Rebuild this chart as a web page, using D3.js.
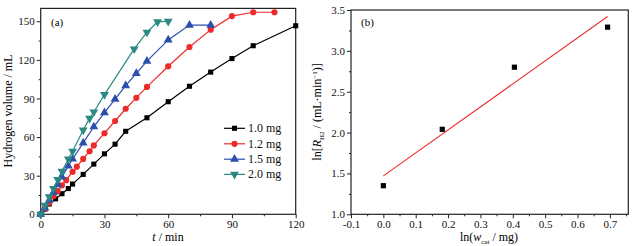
<!DOCTYPE html>
<html>
<head>
<meta charset="utf-8">
<script src="https://cdn.jsdelivr.net/npm/d3@7"></script>
<style>
  body { margin: 0; background: #fff; }
  svg { font-family: "Liberation Serif", "DejaVu Serif", serif; }
</style>
</head>
<body>
<svg id="chart" width="636" height="246"></svg>
<script>
// panel (a) data: time (min) vs hydrogen volume (mL)
const t10 = [0, 2, 4, 7, 10, 13, 15, 20, 25, 30, 35, 40, 50, 60, 70, 80, 90, 100, 120]
const v10 = [0, 4, 8, 12, 16, 20, 23.5, 31, 39, 47, 54.5, 64.5, 75, 87.5, 99.5, 110.5, 121, 131, 146.5]
const t12 = [0, 2, 4, 6, 8, 10, 12, 15, 17, 20, 23, 25, 30, 35, 40, 45, 50, 60, 70, 80, 90, 100, 110]
const v12 = [0, 4.5, 9, 14, 18, 22.5, 26.5, 33, 37, 43, 49, 53.5, 63, 72.5, 82, 90.5, 99, 115, 130, 143.5, 154, 157, 157]
const t15 = [0, 2, 4, 6, 8, 10, 13, 15, 20, 25, 30, 35, 40, 45, 50, 60, 70, 80]
const v15 = [0, 5, 11, 17, 23, 29, 37.5, 43, 55.5, 68, 79, 89.5, 100, 109.5, 119, 135.5, 147, 147]
const t20 = [0, 2, 4, 6, 8, 10, 13, 15, 20, 23, 25, 30, 44, 50, 55, 60]
const v20 = [0, 7, 13.5, 20, 27, 33.5, 43, 49, 65.5, 74.5, 79.5, 93, 128.5, 141.5, 149.5, 150]
const seriesNames = ["1.0 mg", "1.2 mg", "1.5 mg", "2.0 mg"]
const seriesColors = ["#000000", "#ee2b2b", "#2c4fae", "#2a8983"]
const seriesShapes = [d3.symbolSquare, d3.symbolCircle, d3.symbolTriangle, "down"]

const xTicksA = [0, 30, 60, 90, 120]
const yTicksA = [0, 30, 60, 90, 120, 150]

// panel (b) data: ln(w_cat) vs ln(R_H2)
const lnW = [0, 0.182, 0.405, 0.693]
const lnR = [1.35, 2.04, 2.80, 3.29]
const fitX = [0, 0.693]
const fitY = [1.47, 3.42]
const xTicksB = [-0.1, 0, 0.1, 0.2, 0.3, 0.4, 0.5, 0.6, 0.7]
const yTicksB = [1.0, 1.5, 2.0, 2.5, 3.0, 3.5]

const svg = d3.select("#chart")

// plain hyphen for negatives, as in the original figure
const fmt1 = (d) => d3.format(".1f")(d).replace("−", "-")

function frame (g, x, y, xTicks, yTicks, xMinor, yMinor, xFmt, yFmt) {
    let [x0, x1] = x.range()
    let [y0, y1] = y.range()
    let xAxis = d3.axisBottom(x).tickValues(xTicks).tickFormat(xFmt).tickSizeInner(4).tickSizeOuter(0).tickPadding(2)
    let yAxis = d3.axisLeft(y).tickValues(yTicks).tickFormat(yFmt).tickSizeInner(4).tickSizeOuter(0).tickPadding(2)
    g.append("g").attr("transform", `translate(0,${y0})`).call(xAxis)
    g.append("g").attr("transform", `translate(${x0},0)`).call(yAxis)
    g.append("g").attr("transform", `translate(0,${y0})`)
     .call(d3.axisBottom(x).tickValues(xMinor).tickFormat("").tickSizeInner(2).tickSizeOuter(0))
    g.append("g").attr("transform", `translate(${x0},0)`)
     .call(d3.axisLeft(y).tickValues(yMinor).tickFormat("").tickSizeInner(2).tickSizeOuter(0))
    g.selectAll(".domain").remove()
    g.selectAll(".tick line").attr("stroke", "#222")
    g.selectAll(".tick text").attr("fill", "#111").style("font-size", "11px").style("font-family", "Liberation Serif")
    g.append("rect")
     .attr("x", x0).attr("y", y1).attr("width", x1 - x0).attr("height", y0 - y1)
     .attr("fill", "none").attr("stroke", "#222").attr("stroke-width", 1.2)
}

// ---------- panel (a)
const xA = d3.scaleLinear().domain([0, 120]).range([40.7, 295.7])
const yA = d3.scaleLinear().domain([0, 160]).range([214.3, 8.4])
const gA = svg.append("g")
frame(gA, xA, yA, xTicksA, yTicksA, [15, 45, 75, 105], [15, 45, 75, 105, 135],
      d3.format("d"), d3.format("d"))

const dataA = [[t10, v10], [t12, v12], [t15, v15], [t20, v20]]
dataA.forEach(([ts, vs], k) => {
    let pts = ts.map((t, i) => [t, vs[i]])
    let line = d3.line().x(d => xA(d[0])).y(d => yA(d[1]))
    gA.append("path").attr("d", line(pts))
      .attr("fill", "none").attr("stroke", seriesColors[k]).attr("stroke-width", 1.2)
    let sym = seriesShapes[k] === "down" ? d3.symbolTriangle : seriesShapes[k]
    let size = k === 0 ? 26 : (k === 1 ? 30 : 34)
    gA.selectAll(".m" + k).data(pts).enter().append("path")
      .attr("d", d3.symbol().type(sym).size(size)())
      .attr("transform", d => `translate(${xA(d[0])},${yA(d[1])})` + (seriesShapes[k] === "down" ? " rotate(180)" : ""))
      .attr("fill", seriesColors[k])
})

// legend
const legY = [128.3, 143.8, 159.2, 174.4]
seriesNames.forEach((name, k) => {
    let lg = gA.append("g").attr("transform", `translate(224,${legY[k]})`)
    lg.append("line").attr("x1", 0).attr("x2", 21).attr("y1", 0).attr("y2", 0)
      .attr("stroke", seriesColors[k]).attr("stroke-width", 1.2)
    let sym = seriesShapes[k] === "down" ? d3.symbolTriangle : seriesShapes[k]
    let size = k === 0 ? 26 : (k === 1 ? 30 : 34)
    lg.append("path").attr("d", d3.symbol().type(sym).size(size)())
      .attr("transform", "translate(10.5,0)" + (seriesShapes[k] === "down" ? " rotate(180)" : ""))
      .attr("fill", seriesColors[k])
    lg.append("text").attr("x", 24).attr("y", 4).text(name)
      .style("font-size", "12px").attr("fill", "#111")
})

gA.append("text").attr("x", 51).attr("y", 26).text("(a)").style("font-size", "11px")
gA.append("text").attr("transform", "translate(12,111) rotate(-90)")
  .attr("text-anchor", "middle").style("font-size", "12px").text("Hydrogen volume / mL")
const xtA = gA.append("text").attr("x", 168).attr("y", 241).attr("text-anchor", "middle").style("font-size", "12px")
xtA.append("tspan").style("font-style", "italic").text("t")
xtA.append("tspan").text(" / min")

// ---------- panel (b)
const xB = d3.scaleLinear().domain([-0.1, 0.757]).range([351, 628.3])
const yB = d3.scaleLinear().domain([1.0, 3.5]).range([214.3, 10])
const gB = svg.append("g")
frame(gB, xB, yB, xTicksB, yTicksB, [-0.05, 0.05, 0.15, 0.25, 0.35, 0.45, 0.55, 0.65, 0.75],
      [1.25, 1.75, 2.25, 2.75, 3.25], fmt1, fmt1)

gB.append("path")
  .attr("d", d3.line().x(d => xB(d[0])).y(d => yB(d[1]))(fitX.map((x, i) => [x, fitY[i]])))
  .attr("stroke", "#ee2b2b").attr("stroke-width", 1.1).attr("fill", "none")
gB.selectAll(".pt").data(lnW.map((x, i) => [x, lnR[i]])).enter().append("rect")
  .attr("x", d => xB(d[0]) - 2.6).attr("y", d => yB(d[1]) - 2.6)
  .attr("width", 5.2).attr("height", 5.2).attr("fill", "#000")

gB.append("text").attr("x", 361).attr("y", 26).text("(b)").style("font-size", "11px")
const ytB = gB.append("text").attr("transform", "translate(321,112) rotate(-90)")
  .attr("text-anchor", "middle").style("font-size", "12px")
ytB.append("tspan").text("ln[")
ytB.append("tspan").style("font-style", "italic").text("R")
ytB.append("tspan").attr("dy", 3).style("font-size", "7px").text("H2")
ytB.append("tspan").attr("dy", -3).text(" / (mL·min")
ytB.append("tspan").attr("dy", -4).style("font-size", "7px").text("−1")
ytB.append("tspan").attr("dy", 4).text(")]")
const xtB = gB.append("text").attr("x", 489).attr("y", 241).attr("text-anchor", "middle").style("font-size", "12px")
xtB.append("tspan").text("ln(")
xtB.append("tspan").style("font-style", "italic").text("w")
xtB.append("tspan").attr("dy", 3).style("font-size", "7px").text("cat")
xtB.append("tspan").attr("dy", -3).text(" / mg)")
</script>
</body>
</html>
